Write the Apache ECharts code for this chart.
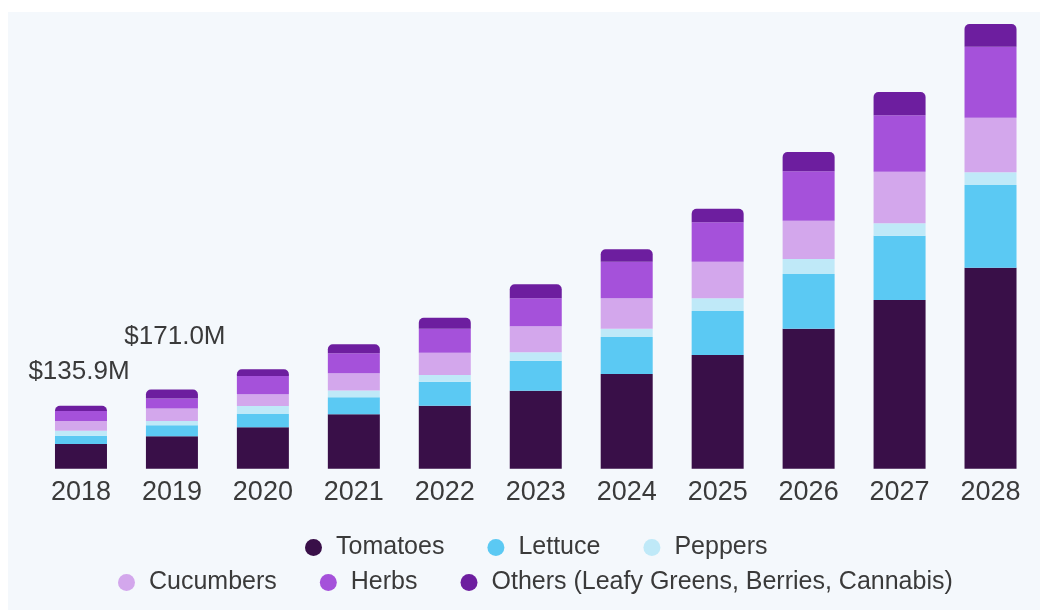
<!DOCTYPE html>
<html>
<head>
<meta charset="utf-8">
<script src="https://cdn.jsdelivr.net/npm/echarts@6/dist/echarts.min.js"></script>
<style>
  html, body { margin: 0; padding: 0; background: #ffffff; }
  #chart { width: 1046px; height: 610px; }
</style>
</head>
<body>
<div id="chart"></div>
<script>
// years on the x axis
var years = ["2018", "2019", "2020", "2021", "2022", "2023", "2024", "2025", "2026", "2027", "2028"];

// market size by crop, USD million
var tomatoes   = [53.3, 70.0, 89.4, 117.5, 136.1, 168.5, 204.6, 245.6, 302.4, 364.4, 434.2];
var lettuce    = [17.9, 23.8, 28.7, 36.7, 51.8, 64.8, 79.9, 95.0, 118.2, 138.9, 178.6];
var peppers    = [10.8, 9.3, 17.3, 14.5, 14.5, 18.1, 17.9, 27.4, 32.4, 26.8, 27.4];
var cucumbers  = [21.0, 26.8, 25.3, 37.4, 48.2, 56.2, 65.7, 79.1, 82.7, 111.5, 117.9];
var herbs      = [21.6, 21.6, 39.5, 43.2, 51.8, 60.5, 79.1, 85.1, 106.5, 121.8, 153.4];
var others     = [11.3, 19.5, 14.5, 19.4, 23.8, 30.2, 26.8, 29.4, 41.9, 50.3, 49.0];

// totals written above the first two bars
var totalLabels = ["$135.9M", "$171.0M"];

var seriesNames = ["Tomatoes", "Lettuce", "Peppers", "Cucumbers", "Herbs", "Others (Leafy Greens, Berries, Cannabis)"];
var seriesData = [tomatoes, lettuce, peppers, cucumbers, herbs, others];
var colors = ["#390f48", "#5bc9f3", "#bfe9f8", "#d3a7ec", "#a551da", "#6d1e9f"];

var textColor = "#3a3a3a";
var font = "'Liberation Sans', Arial, sans-serif";

// label offsets for the two totals
var labelOffsets = [[-2, -16], [3, -35]];

var series = [];
for (var i = 0; i < seriesNames.length; i++) {
  var isTop = i === seriesNames.length - 1;
  var data = seriesData[i].map(function (v, j) {
    if (isTop && j < totalLabels.length) {
      return {
        value: v,
        label: {
          show: true,
          position: "top",
          offset: labelOffsets[j],
          formatter: totalLabels[j],
          fontSize: 26,
          fontFamily: font,
          color: textColor
        }
      };
    }
    return v;
  });
  series.push({
    name: seriesNames[i],
    type: "bar",
    stack: "total",
    barWidth: 52,
    itemStyle: {
      color: colors[i],
      borderRadius: isTop ? [5, 5, 0, 0] : 0
    },
    emphasis: { disabled: true },
    data: data
  });
}

var legendText = { fontSize: 25, fontFamily: font, color: textColor, padding: [0, 0, 0, 9] };

var option = {
  animation: false,
  color: colors,
  graphic: [
    {
      type: "rect",
      z: -10,
      silent: true,
      shape: { x: 8, y: 12, width: 1032, height: 598 },
      style: { fill: "#f4f8fc" }
    }
  ],
  grid: {
    left: 35.5,
    right: 10,
    top: 19.6,
    bottom: 141.3
  },
  legend: [
    {
      data: seriesNames.slice(0, 3),
      left: 305,
      top: 535,
      icon: "circle",
      itemWidth: 17,
      itemHeight: 17,
      itemGap: 43,
      padding: 0,
      textStyle: legendText,
      selectedMode: false
    },
    {
      data: seriesNames.slice(3),
      left: 118,
      top: 570,
      icon: "circle",
      itemWidth: 17,
      itemHeight: 17,
      itemGap: 43,
      padding: 0,
      textStyle: legendText,
      selectedMode: false
    }
  ],
  xAxis: {
    type: "category",
    data: years,
    axisLine: { show: false },
    axisTick: { show: false },
    axisLabel: {
      margin: 10,
      fontSize: 27,
      fontFamily: font,
      color: textColor
    }
  },
  yAxis: {
    type: "value",
    min: 0,
    max: 970,
    show: false,
    splitLine: { show: false }
  },
  series: series
};

var myChart = echarts.init(document.getElementById("chart"));
myChart.setOption(option);
</script>
</body>
</html>
